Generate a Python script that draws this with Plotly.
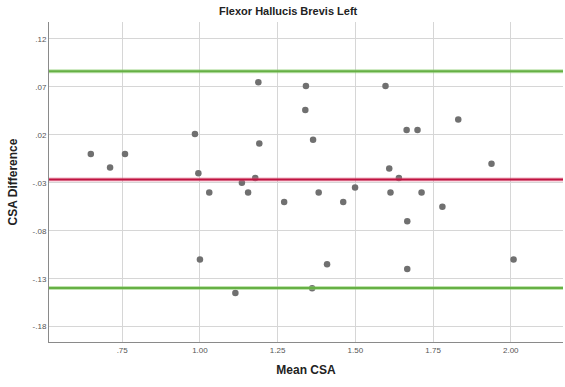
import plotly.graph_objects as go

# Data (Bland-Altman plot)
mean_csa = [0.649, 0.711, 0.759, 0.984, 0.995, 1.030, 1.135, 1.155, 1.178, 1.188,
            1.191, 1.271, 1.000, 1.114, 1.341, 1.339, 1.364, 1.382, 1.461, 1.499,
            1.597, 1.609, 1.640, 1.613, 1.665, 1.700, 1.713, 1.667, 1.780, 1.831,
            1.938, 1.409, 1.667, 1.361, 2.009]
csa_diff = [0.000, -0.014, 0.000, 0.021, -0.020, -0.040, -0.030, -0.040, -0.025, 0.075,
            0.011, -0.050, -0.110, -0.145, 0.071, 0.046, 0.015, -0.040, -0.050, -0.035,
            0.071, -0.015, -0.025, -0.040, 0.025, 0.025, -0.040, -0.070, -0.055, 0.036,
            -0.010, -0.115, -0.120, -0.140, -0.110]

mean_diff = -0.0265
upper_loa = 0.0863
lower_loa = -0.1396

x_tickvals = [0.75, 1.00, 1.25, 1.50, 1.75, 2.00]
x_ticktext = [".75", "1.00", "1.25", "1.50", "1.75", "2.00"]
y_tickvals = [0.12, 0.07, 0.02, -0.03, -0.08, -0.13, -0.18]
y_ticktext = [".12", ".07", ".02", "-.03", "-.08", "-.13", "-.18"]

fig = go.Figure()
fig.add_trace(go.Scatter(
    x=mean_csa, y=csa_diff, mode="markers",
    marker=dict(color="#707070", size=6.5, line=dict(width=0)),
    hoverinfo="x+y", showlegend=False))

shapes = []
for val, halo, core in [(upper_loa, "rgba(140,205,110,0.55)", "#66b045"),
                        (lower_loa, "rgba(140,205,110,0.55)", "#66b045"),
                        (mean_diff, "rgba(225,110,140,0.5)", "#bf1340")]:
    shapes.append(dict(type="line", xref="paper", yref="y", x0=0, x1=1, y0=val, y1=val,
                       line=dict(color=halo, width=4), layer="above"))
    shapes.append(dict(type="line", xref="paper", yref="y", x0=0, x1=1, y0=val, y1=val,
                       line=dict(color=core, width=2), layer="above"))

font_fam = "Liberation Sans, Arial, sans-serif"
fig.update_layout(
    width=565, height=387,
    margin=dict(l=49, r=2, t=22, b=45),
    paper_bgcolor="white", plot_bgcolor="white",
    shapes=shapes,
    title=dict(text="<b>Flexor Hallucis Brevis Left</b>", x=0.51, xanchor="center",
               y=0.972, yanchor="middle", font=dict(family=font_fam, size=11, color="#222")),
    xaxis=dict(range=[0.5145, 2.168], tickvals=x_tickvals, ticktext=x_ticktext,
               showgrid=True, gridcolor="#d6d6d6", gridwidth=1, zeroline=False,
               showline=True, linecolor="#8a8a8a", linewidth=1, ticks="",
               tickfont=dict(family=font_fam, size=8, color="#555"),
               title=dict(text="<b>Mean CSA</b>", standoff=12,
                          font=dict(family=font_fam, size=12, color="#222"))),
    yaxis=dict(range=[-0.196, 0.1377], tickvals=y_tickvals, ticktext=y_ticktext,
               showgrid=True, gridcolor="#d6d6d6", gridwidth=1, zeroline=False,
               showline=True, linecolor="#8a8a8a", linewidth=1, ticks="",
               tickfont=dict(family=font_fam, size=8, color="#555"),
               title=dict(text="<b>CSA Difference</b>", standoff=12,
                          font=dict(family=font_fam, size=12, color="#222"))),
)

fig.write_html("out.html", config={"displayModeBar": False},
               post_script="document.body.style.margin='0';document.body.style.padding='0';")
